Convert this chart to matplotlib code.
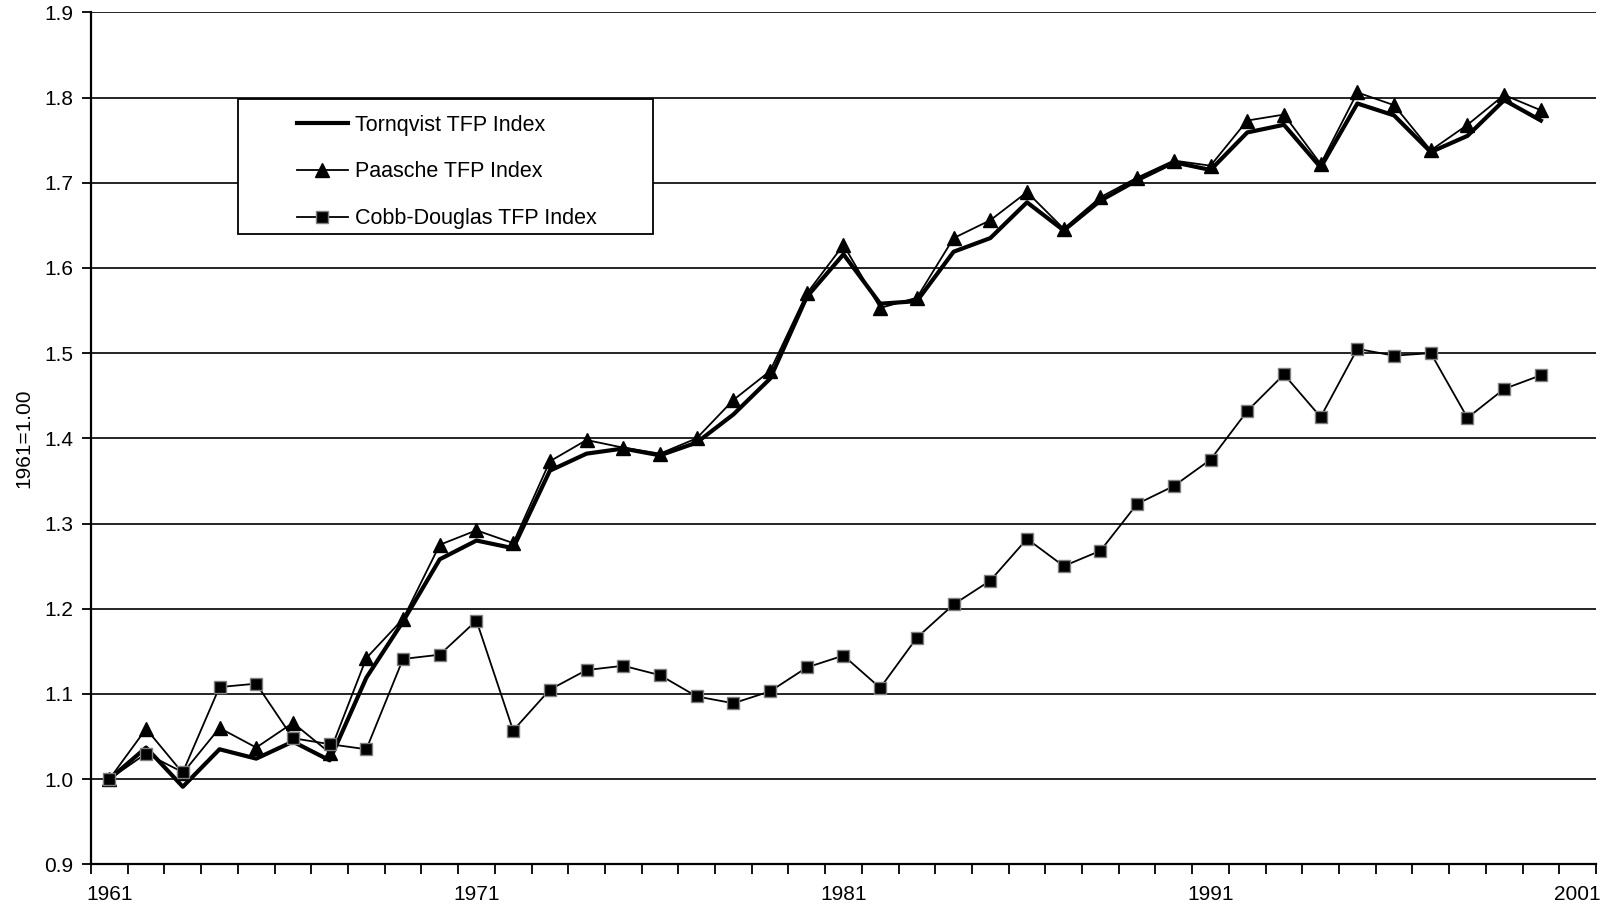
import numpy as np
import matplotlib
matplotlib.use("Agg")
import matplotlib.pyplot as plt
from matplotlib.patches import Rectangle

plt.rcParams['font.family'] = ['Liberation Sans', 'DejaVu Sans']

# %% data (1961 = 1.00)
years = list(range(1961, 2001))
tick_labels = ["1961", "1971", "1981", "1991", "2001"]

tornqvist = [1.000, 1.037, 0.991, 1.035, 1.024, 1.044, 1.022, 1.119, 1.185, 1.258,
             1.280, 1.271, 1.362, 1.382, 1.388, 1.380, 1.395, 1.428, 1.470, 1.566,
             1.616, 1.558, 1.561, 1.619, 1.635, 1.677, 1.644, 1.679, 1.703, 1.724,
             1.715, 1.759, 1.768, 1.718, 1.793, 1.779, 1.736, 1.755, 1.797, 1.773]
paasche = [1.000, 1.059, 1.007, 1.060, 1.037, 1.066, 1.031, 1.142, 1.188, 1.275,
           1.292, 1.277, 1.373, 1.398, 1.389, 1.382, 1.400, 1.445, 1.479, 1.570,
           1.627, 1.553, 1.565, 1.635, 1.656, 1.689, 1.646, 1.683, 1.706, 1.726,
           1.720, 1.773, 1.780, 1.722, 1.806, 1.791, 1.738, 1.768, 1.803, 1.785]
cobb_douglas = [1.000, 1.030, 1.008, 1.108, 1.112, 1.048, 1.041, 1.035, 1.141, 1.146,
                1.186, 1.057, 1.105, 1.128, 1.133, 1.122, 1.097, 1.089, 1.103, 1.131,
                1.145, 1.107, 1.166, 1.205, 1.233, 1.282, 1.250, 1.268, 1.323, 1.344,
                1.375, 1.432, 1.475, 1.425, 1.505, 1.497, 1.500, 1.424, 1.458, 1.474]

# category axis: one slot per year, 1961..2001
x = np.arange(len(years))
n_cat = 41

fig = plt.figure(figsize=(16.03, 9.14), dpi=100)
ax = fig.add_axes([0.0568, 0.0544, 0.9388, 0.9321])

ax.plot(x, tornqvist, color="black", lw=3.0, zorder=3, label="Tornqvist TFP Index")
ax.plot(x, paasche, color="black", lw=1.3, marker="^", ms=10.5, zorder=4,
        label="Paasche TFP Index")
ax.plot(x, cobb_douglas, color="black", lw=1.3, marker="s", ms=9, mfc="black",
        mec="#7f7f7f", mew=1.0, zorder=5, label="Cobb-Douglas TFP Index")

ax.set_xlim(-0.5, n_cat - 0.5)
ax.set_ylim(0.9, 1.9)
ax.set_yticks(np.arange(0.9, 1.91, 0.1))
ax.set_yticklabels([f"{v:.1f}" for v in np.arange(0.9, 1.91, 0.1)])
ax.yaxis.grid(True, color="black", lw=1.2)
ax.set_axisbelow(True)

ax.set_xticks([0, 10, 20, 30, 40])
ax.set_xticklabels(tick_labels)
ax.set_xticks(np.arange(-0.5, n_cat, 1.0), minor=True)
ax.tick_params(axis="x", which="major", length=0, pad=15, labelsize=15)
ax.tick_params(axis="x", which="minor", length=7, width=1.3, direction="out")
ax.tick_params(axis="y", length=6.5, width=1.3, pad=6, labelsize=15)

for s in ["top", "right"]:
    ax.spines[s].set_visible(False)
for s in ["left", "bottom"]:
    ax.spines[s].set_linewidth(1.6)

ax.set_ylabel("1961=1.00", fontsize=15, labelpad=8)

# legend box drawn as a plain rectangle, entries without a frame
box = Rectangle((0.0977, 0.7399), 0.2757, 0.1588, transform=ax.transAxes,
                facecolor="white", edgecolor="black", lw=1.3, zorder=6)
ax.add_patch(box)
leg = ax.legend(loc="upper left", bbox_to_anchor=(0.1369, 0.880), frameon=False,
                borderaxespad=0, borderpad=0, fontsize=15.5, handlelength=2.35,
                handletextpad=0.35, labelspacing=1.2)
leg.set_zorder(7)

fig.savefig("out.png", dpi=100)
